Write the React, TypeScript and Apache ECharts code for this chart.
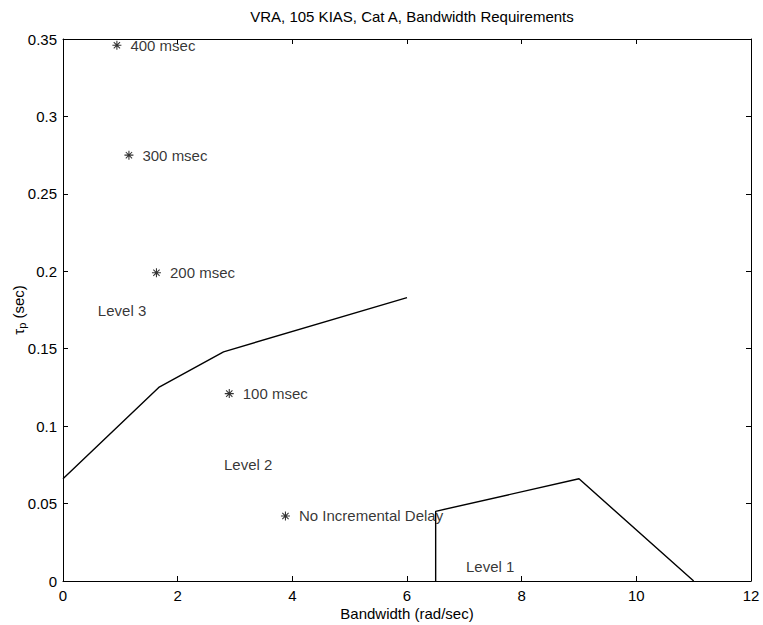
import React, { useEffect, useRef } from "react";
import * as echarts from "echarts";

const titleText = "VRA, 105 KIAS, Cat A, Bandwidth Requirements";
const xAxisName = "Bandwidth (rad/sec)";

// Level 3 / Level 2 boundary
const boundary32: [number, number][] = [
  [0, 0.066],
  [1.67, 0.125],
  [2.8, 0.148],
  [6.0, 0.183],
];

// Level 2 / Level 1 boundary
const boundary21: [number, number][] = [
  [6.5, 0],
  [6.5, 0.045],
  [9.0, 0.066],
  [11.0, 0],
];

// Delay test points
const delayNames = ["400 msec", "300 msec", "200 msec", "100 msec", "No Incremental Delay"];
const delayX = [0.94, 1.15, 1.63, 2.9, 3.88];
const delayY = [0.346, 0.275, 0.199, 0.121, 0.042];

// Region labels
const levelNames = ["Level 3", "Level 2", "Level 1"];
const levelX = [1.03, 3.23, 7.45];
const levelY = [0.175, 0.075, 0.0095];

const FONT = "Liberation Sans, Arial, Helvetica, sans-serif";
const FS = 15;

const asterisk =
  "path://M0 4.4 L10 4.4 L10 5.6 L0 5.6 Z " +
  "M4.4 0 L5.6 0 L5.6 10 L4.4 10 Z " +
  "M1.9 1.1 L8.9 8.1 L8.1 8.9 L1.1 1.9 Z " +
  "M8.1 1.1 L8.9 1.9 L1.9 8.9 L1.1 8.1 Z";

export default function App() {
  const ref = useRef<HTMLDivElement>(null);

  useEffect(() => {
    if (!ref.current) return;
    const chart = echarts.init(ref.current, undefined, { renderer: "svg" });

    const axisCommon = {
      axisLine: { show: true, onZero: false, lineStyle: { color: "#000", width: 1 } },
      axisTick: { show: true, inside: true, length: 5, lineStyle: { color: "#000" } },
      splitLine: { show: false },
    };

    chart.setOption({
      animation: false,
      backgroundColor: "#fff",
      textStyle: { fontFamily: FONT },
      title: {
        text: titleText,
        left: 407,
        textAlign: "center",
        top: 4,
        textStyle: { fontSize: FS, fontWeight: "normal", color: "#000", fontFamily: FONT },
      },
      grid: { left: 63, right: 12, top: 39, bottom: 44, containLabel: false, outerBoundsMode: "none" },
      xAxis: [
        {
          type: "value",
          position: "bottom",
          min: 0,
          max: 12,
          interval: 2,
          name: xAxisName,
          nameLocation: "middle",
          nameGap: 25,
          nameMoveOverlap: false,
          nameTextStyle: { fontSize: FS, color: "#000", fontFamily: FONT },
          axisLabel: { fontSize: FS, color: "#000", margin: 7, fontFamily: FONT },
          ...axisCommon,
        },
        {
          type: "value",
          position: "top",
          min: 0,
          max: 12,
          interval: 2,
          axisLabel: { show: false },
          ...axisCommon,
        },
      ],
      yAxis: [
        {
          type: "value",
          position: "left",
          min: 0,
          max: 0.35,
          interval: 0.05,
          name: "{t|τ}{s|p}{t| (sec)}",
          nameLocation: "middle",
          nameGap: 36,
          nameMoveOverlap: false,
          nameRotate: 90,
          nameTextStyle: {
            color: "#000",
            rich: {
              t: { fontSize: FS, color: "#000", fontFamily: FONT },
              s: { fontSize: 11, color: "#000", fontFamily: FONT, verticalAlign: "bottom", padding: [7, 0, 0, 0] },
            },
          },
          axisLabel: { fontSize: FS, color: "#000", margin: 6, fontFamily: FONT },
          ...axisCommon,
        },
        {
          type: "value",
          position: "right",
          min: 0,
          max: 0.35,
          interval: 0.05,
          axisLabel: { show: false },
          ...axisCommon,
        },
      ],
      series: [
        {
          type: "line",
          data: boundary32,
          symbol: "none",
          lineStyle: { color: "#000", width: 1.4 },
          z: 3,
        },
        {
          type: "line",
          data: boundary21,
          symbol: "none",
          lineStyle: { color: "#000", width: 1.4 },
          z: 3,
        },
        {
          type: "scatter",
          symbol: asterisk,
          symbolSize: 9,
          itemStyle: { color: "#000" },
          data: delayNames.map((n, i) => ({ name: n, value: [delayX[i], delayY[i]] })),
          label: {
            show: true,
            position: "right",
            distance: 9,
            formatter: (p: any) => p.name,
            fontSize: FS,
            color: "#000",
            fontFamily: FONT,
          },
          z: 4,
        },
        {
          type: "scatter",
          symbol: "circle",
          symbolSize: 1,
          itemStyle: { color: "rgba(0,0,0,0)" },
          data: levelNames.map((n, i) => ({ name: n, value: [levelX[i], levelY[i]] })),
          label: {
            show: true,
            position: "inside",
            formatter: (p: any) => p.name,
            fontSize: FS,
            color: "#000",
            fontFamily: FONT,
          },
          z: 4,
        },
      ],
    });

    return () => chart.dispose();
  }, []);

  return <div ref={ref} style={{ width: 763, height: 625, position: "absolute", left: 0, top: 0 }} />;
}
